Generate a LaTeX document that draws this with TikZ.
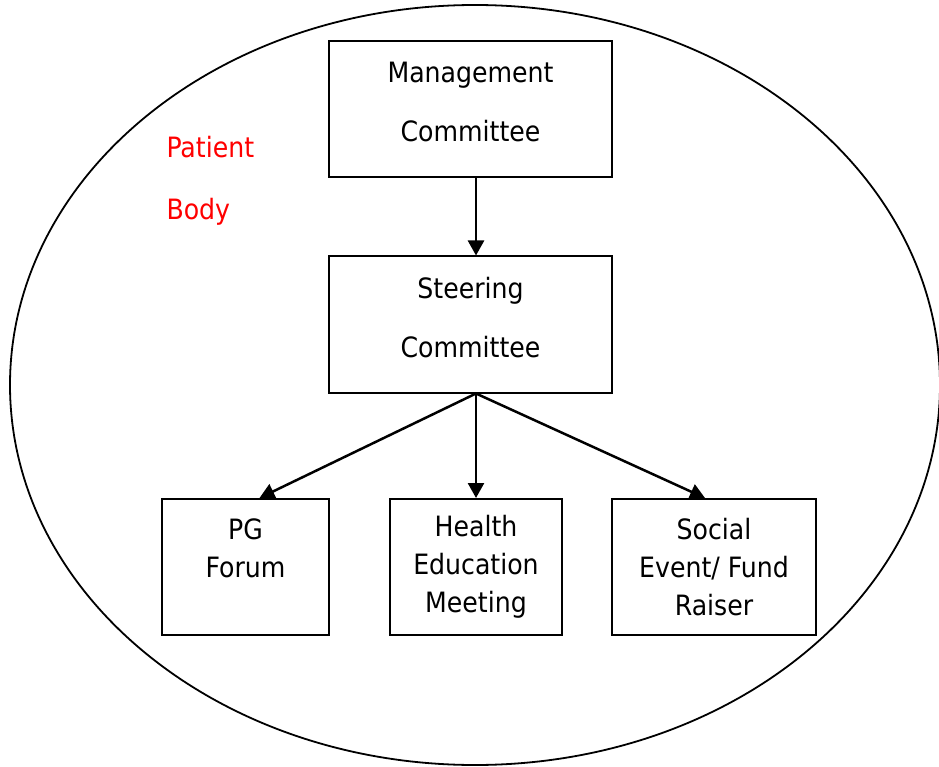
\documentclass[tikz,border=0pt]{standalone}
\usepackage{fontspec}
\setmainfont{DejaVu Sans Condensed}
\usetikzlibrary{arrows.meta}

\begin{document}
\begin{tikzpicture}[x=1pt,y=-1pt,
    box/.style={draw,line width=2pt,minimum height=136pt,align=center,inner sep=0pt,font=\fontsize{28}{59}\selectfont},
    bigbox/.style={box,minimum width=283pt,text depth=14pt},
    smallbox/.style={box,font=\fontsize{28}{38}\selectfont},
    arr/.style={line width=2.5pt,-{Triangle[length=15pt,width=16pt]}}]
    \useasboundingbox (0,0) rectangle (939,767);
    \draw [line width=1.8pt] (475,385) ellipse [x radius=465pt,y radius=380pt];
    \node [bigbox] (mgmt) at (470.5,109) {Management\\Committee};
    \node [bigbox] (steer) at (470.5,324.5) {Steering\\Committee};
    \node [smallbox,minimum width=167pt] (pg) at (245.5,567) {PG\\Forum\\\mbox{}};
    \node [smallbox,minimum width=172pt] (health) at (476,567) {Health\\Education\\Meeting};
    \node [smallbox,minimum width=204pt] (social) at (714,567) {Social\\Event/ Fund\\Raiser};
    \node [red,anchor=base west,align=left,font=\fontsize{28}{62}\selectfont] (body) at (163,220) {Patient\\Body};
    \coordinate (fork) at (steer.south -| health);
    \draw [arr] (mgmt.south -| health) -- (steer.north -| health);
    \draw [arr] (fork) -- ([xshift=14pt]pg.north);
    \draw [arr] (fork) -- (health.north);
    \draw [arr] (fork) -- ([xshift=-9pt]social.north);
\end{tikzpicture}
\end{document}
